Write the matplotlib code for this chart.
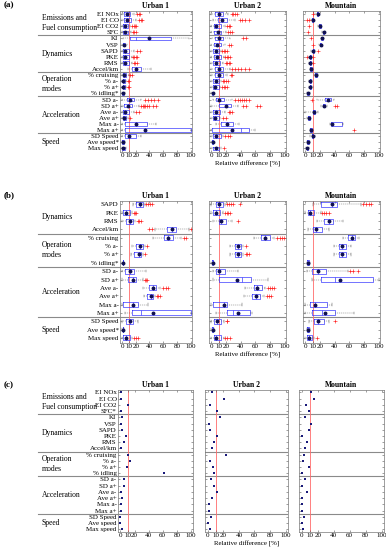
import numpy as np
import matplotlib
matplotlib.use('Agg')
import matplotlib.pyplot as plt
from matplotlib.lines import Line2D
from matplotlib import transforms

plt.rcParams['font.family'] = ['Liberation Serif', 'DejaVu Serif']

# ---------------- data ----------------
# row labels
labels_ac = ['EI NOx', 'EI CO', 'EI CO2', 'SFC', 'KI', 'VSP', 'SAPD', 'PKE', 'RMS',
             'Accel/km', '% cruising', '% a-', '% a+', '% idling*', 'SD a-', 'SD a+',
             'Ave a-', 'Ave a+', 'Max a-', 'Max a+', 'SD Speed', 'Ave speed*', 'Max speed']
labels_b = ['SAPD', 'PKE', 'RMS', 'Accel/km', '% cruising', '% a-', '% a+', '% idling*',
            'SD a-', 'SD a+', 'Ave a-', 'Ave a+', 'Max a-', 'Max a+', 'SD Speed',
            'Ave speed*', 'Max speed']
labels_c = ['EI NOx', 'EI CO', 'EI CO2', 'SFC*', 'KI', 'VSP', 'SAPD', 'PKE', 'RMS',
            'Accel/km', '% cruising', '% a-', '% a+', '% idling', 'SD a-', 'SD a+',
            'Ave a-', 'Ave a+', 'Max a-', 'Max a+', 'SD Speed', 'Ave speed', 'Max speed']

groups_ac = [('Emissions and\nFuel consumption', 2.5), ('Dynamics', 7.5),
             ('Operation\nmodes', 12.5), ('Acceleration', 17.5), ('Speed', 22)]
groups_b = [('Dynamics', 2.5), ('Operation\nmodes', 6.5), ('Acceleration', 11.5), ('Speed', 16)]
seps_ac = [4.5, 10.5, 14.5, 20.5]
seps_b = [4.5, 8.5, 14.5]

titles = ['Urban 1', 'Urban 2', 'Mountain']
xticks = [0, 10, 20, 40, 60, 80, 100]

# box rows: (whisker low, q1, median, q3, whisker high, mean, outliers)
a_urban1 = [
    (0, 3, 7, 11, 17, 7, [22, 24, 26]),
    (0, 3, 7, 13, 20, 7, [24, 27, 29]),
    (0, 2, 5, 9, 12, 5, [15, 17, 19, 20]),
    (0, 2, 5, 9, 13, 5, [16, 18, 20]),
    (2, 11, 21, 71, 98, 39, []),
    (0, 1, 3, 5, 7, 3, []),
    (0, 2, 5, 10, 18, 5, [22, 26]),
    (0, 2, 5, 10, 14, 5, [16, 18, 20, 22]),
    (0, 2, 5, 10, 14, 5, [17, 19, 22]),
    (8, 15, 20, 27, 42, 20, []),
    (0, 1, 3, 6, 10, 3, [12, 14]),
    (0, 1, 2, 4, 6, 2, [9, 10]),
    (0, 1, 2, 4, 6, 2, [8, 10]),
    (0, 0.5, 1.5, 3, 4, 1.5, []),
    (0, 7, 12, 18, 28, 12, [33, 38, 42, 47, 52]),
    (0, 3, 8, 14, 24, 8, [28, 30, 32, 34, 37, 40, 45, 50]),
    (0, 2, 5, 10, 17, 5, [21, 25]),
    (0, 1, 3, 6, 9, 3, [11]),
    (0, 4, 20, 36, 50, 20, []),
    (0, 4, 33, 100, 100, 33, []),
    (0, 5, 10, 21, 28, 10, []),
    (0, 0.5, 1.5, 3, 4, 1.5, []),
    (0, 0.5, 2, 4, 6, 2, []),
]
a_urban2 = [
    (0, 5, 10, 16, 23, 10, [28, 30, 33, 35]),
    (2, 9, 15, 21, 32, 15, [39, 42, 46, 51]),
    (0, 4, 7, 13, 19, 7, [22, 24, 26]),
    (0, 4, 9, 14, 20, 9, [23, 26, 29]),
    (0, 5, 11, 16, 26, 11, [43, 47]),
    (0, 4, 8, 13, 19, 8, [24, 27]),
    (0, 2, 6, 10, 13, 6, [15, 17, 19, 21]),
    (0, 4, 8, 13, 17, 8, [19, 21, 23, 25]),
    (0, 3, 7, 12, 16, 7, [20, 22, 24, 26]),
    (0, 5, 11, 16, 25, 11, [29, 33, 37, 41, 46, 51]),
    (0, 5, 11, 16, 22, 11, [27, 28]),
    (0, 2, 6, 10, 13, 6, [16, 18, 20, 23]),
    (0, 2, 5, 10, 12, 5, [15, 17, 19, 22]),
    (0, 1, 2, 3, 4, 2, []),
    (3, 6, 11, 17, 29, 11, [33, 36, 39, 42, 45, 48, 51]),
    (0, 10, 20, 27, 37, 20, [43, 47, 62, 66]),
    (0, 3, 7, 12, 19, 7, [24, 26, 28]),
    (0, 2, 5, 10, 12, 5, [16, 20]),
    (7, 14, 22, 30, 38, 22, []),
    (0, 1, 40, 52, 60, 29, []),
    (0, 3, 6, 13, 16, 6, [19, 23, 26]),
    (0, 1, 2, 3, 4, 2, []),
    (0, 2, 7, 11, 13, 7, [17]),
]
a_mountain = [
    (14, 16, 17, 18, 19, 17, [10]),
    (8, 9, 10, 11, 12, 10, [2, 5]),
    (18, 19, 20, 21, 22, 20, [5]),
    (23, 24, 25, 26, 27, 25, [4]),
    (21, 22, 23, 24, 25, 23, [8]),
    (19, 20, 21, 22, 23, 21, [11]),
    (8, 10, 11, 12, 14, 11, [18]),
    (5, 6, 7, 8, 9, 7, [3, 11]),
    (5, 6, 7, 8, 9, 7, [11]),
    (6, 7, 8, 9, 10, 8, []),
    (12, 14, 15, 16, 18, 15, []),
    (5, 6, 7, 8, 9, 7, []),
    (5, 6, 7, 8, 11, 7, []),
    (2, 3, 4, 5, 6, 4, []),
    (16, 27, 31, 35, 39, 31, [9]),
    (22, 24, 25, 27, 30, 25, [41, 44]),
    (0, 10, 12, 14, 18, 12, []),
    (3, 4, 5, 6, 7, 5, []),
    (34, 35, 37, 50, 51, 37, []),
    (6, 7, 8, 9, 10, 8, [67]),
    (7, 9, 10, 11, 14, 10, []),
    (2, 3, 4, 5, 6, 4, []),
    (1, 2, 3, 4, 5, 3, []),
]
b_urban1 = [
    (16, 21, 26, 31, 33, 26, [35, 38, 41, 43]),
    (0, 1, 6, 11, 15, 6, [17, 19, 21]),
    (0, 6, 11, 16, 19, 11, [23, 25, 27]),
    (48, 66, 73, 79, 97, 73, [40, 43, 100]),
    (45, 61, 67, 74, 86, 67, [90, 93]),
    (15, 21, 26, 31, 33, 26, [36]),
    (13, 18, 24, 28, 31, 24, [34]),
    (0, 1, 1.5, 2, 3, 1.5, []),
    (0, 5, 11, 18, 35, 11, []),
    (0, 9, 16, 21, 30, 16, [33, 35, 36]),
    (30, 40, 45, 50, 55, 45, [60, 64, 67]),
    (32, 37, 42, 45, 48, 42, [51, 53, 55]),
    (0, 1, 16, 23, 38, 16, []),
    (5, 15, 28, 100, 100, 45, []),
    (0, 6, 11, 16, 23, 11, []),
    (0, 1, 1.5, 2, 3, 1.5, []),
    (0, 1, 6, 11, 15, 6, [18, 20, 23]),
]
b_urban2 = [
    (0, 7, 11, 16, 19, 11, [21, 24, 27, 30, 39]),
    (0, 2, 7, 12, 16, 7, [19, 21, 23, 25]),
    (2, 10, 14, 20, 28, 14, [36]),
    None,
    (58, 68, 74, 80, 85, 74, [90, 94, 97, 99]),
    (25, 33, 36, 40, 44, 36, [47]),
    (26, 33, 36, 40, 44, 36, [47, 49, 51]),
    (0, 1, 2, 3, 4, 2, []),
    (3, 6, 11, 19, 37, 11, []),
    (3, 10, 42, 54, 78, 35, []),
    (46, 58, 63, 69, 74, 63, [78, 80, 83, 85]),
    (45, 55, 61, 66, 72, 61, [76, 79, 82]),
    (0, 2, 17, 21, 42, 17, []),
    (7, 21, 30, 53, 56, 37, []),
    (0, 4, 8, 13, 17, 8, [21, 22]),
    (0, 1, 2, 3, 4, 2, []),
    (0, 4, 7, 13, 17, 7, [19, 22, 25]),
]
b_mountain = [
    (10, 21, 36, 44, 76, 36, [79, 83, 87, 90]),
    (0, 4, 7, 12, 21, 7, [23, 26, 29, 32]),
    (16, 25, 32, 38, 51, 32, []),
    (4, 10, 15, 23, 32, 15, []),
    (51, 58, 64, 68, 74, 64, []),
    (39, 46, 50, 55, 62, 50, []),
    (39, 46, 50, 55, 62, 50, []),
    (2, 3, 4, 5, 6, 4, []),
    (2, 9, 18, 28, 58, 18, [61, 65, 72]),
    (9, 21, 41, 92, 100, 48, []),
    None,
    None,
    (0, 7, 13, 30, 37, 13, []),
    (0, 9, 23, 41, 67, 27, []),
    (5, 12, 18, 25, 32, 18, [41]),
    (2, 3, 4, 5, 6, 4, []),
    (0, 2, 5, 9, 12, 5, [16]),
]
# panel (c): single values
c_urban1 = [0.5, 0.5, 10.5, 0.5, 2.5, 1, 2.5, 8.5, 5, 0.5, 10.5, 13, 9, 62,
            5, 5, 0.5, 1.5, 0.5, 0.5, 0, 0, 1.5]
c_urban2 = [5, 21, 2.5, 12.5, 16, 1, 3.5, 12.5, 7.5, 5, 24, 3, 7, 8,
            4, 7.5, 11.5, 5, 1, 1, 4, 0.5, 3.5]
c_mountain = [11, 15, 5, 9, 4.5, 11, 9, 0, 7, 4, 3, 1.5, 9, 0,
              4, 0, 6, 0, 0, 0, 2.5, 0, 1.5]

# ---------------- figure ----------------
W, H = 386, 550
fig = plt.figure(figsize=(W / 100, H / 100), dpi=100)

FS = 5
sep_col = '#8a8a8a'


def add_ax(x0, x1, y0, y1):
    return fig.add_axes([x0 / W, 1 - y1 / H, (x1 - x0) / W, (y1 - y0) / H])


def style_ax(ax, n, ylim, xlim, labels, first, title, xlabel):
    ax.set_xlim(*xlim)
    ax.set_ylim(*ylim)
    ax.set_xticks(xticks)
    ax.set_xticklabels([str(t) for t in xticks])
    ax.set_yticks(np.arange(1, n + 1))
    if first:
        ax.set_yticklabels(labels)
    else:
        ax.set_yticklabels([])
    ax.tick_params(axis='both', direction='in', length=1.5, width=0.4,
                   labelsize=FS, pad=1, top=True, right=True, colors='#555555',
                   labelcolor='black')
    for s in ax.spines.values():
        s.set_color('#777777')
        s.set_linewidth(0.5)
    ax.axvline(10, color='#ff6a6a', lw=0.6, zorder=1)
    ax.set_title(title, fontsize=5.5, fontweight='bold', pad=2)
    if xlabel:
        ax.set_xlabel('Relative difference [%]', fontsize=FS, labelpad=1.5)


def draw_boxes(ax, rows):
    stats, pos = [], []
    for i, r in enumerate(rows):
        if r is None:
            continue
        lo, q1, med, q3, hi, mean, fl = r
        stats.append(dict(whislo=lo, q1=q1, med=med, q3=q3, whishi=hi,
                          mean=mean, fliers=fl))
        pos.append(i + 1)
    ax.bxp(stats, positions=pos, orientation='horizontal', widths=0.6,
           showmeans=True, patch_artist=False,
           boxprops=dict(color='#3b3bff', lw=0.5),
           medianprops=dict(color='#3b3bff', lw=0.5),
           whiskerprops=dict(color='#555555', ls=(0, (2, 2)), lw=0.35),
           capprops=dict(color='#555555', lw=0.35),
           capwidths=0.3,
           meanprops=dict(marker='o', mfc='#101050', mec='#101050', ms=1.8),
           flierprops=dict(marker='+', mec='#ff2020', ms=2.2, mew=0.45))


def separators(ax, seps, x0):
    trans = transforms.blended_transform_factory(fig.transFigure, ax.transData)
    for y in seps:
        ax.axhline(y, color=sep_col, lw=0.8, zorder=0.5)
        if x0 is not None:
            fig.add_artist(Line2D([38 / W, x0 / W], [y, y], transform=trans,
                                  color=sep_col, lw=0.8))


def group_labels(ax, groups):
    trans = transforms.blended_transform_factory(fig.transFigure, ax.transData)
    for txt, y in groups:
        ax.text(42 / W, y, txt, transform=trans, fontsize=5.5, va='center',
                ha='left', linespacing=1.3)


# panel (a)
rects_a = [(120, 192), (209, 286), (303, 380)]
for k, (rows, (x0, x1)) in enumerate(zip([a_urban1, a_urban2, a_mountain], rects_a)):
    ax = add_ax(x0, x1, 11, 152)
    draw_boxes(ax, rows)
    style_ax(ax, 23, (23.6, 0.5), (-3, 102), labels_ac, k == 0, titles[k], k == 1)
    separators(ax, seps_ac, x0 if k == 0 else None)
    if k == 0:
        group_labels(ax, groups_ac)

# panel (b)
for k, (rows, (x0, x1)) in enumerate(zip([b_urban1, b_urban2, b_mountain], rects_a)):
    ax = add_ax(x0, x1, 201, 343)
    draw_boxes(ax, rows)
    style_ax(ax, 17, (17.6, 0.6), (-3, 102), labels_b, k == 0, titles[k], k == 1)
    separators(ax, seps_b, x0 if k == 0 else None)
    if k == 0:
        group_labels(ax, groups_b)

# panel (c)
rects_c = [(118, 193), (205, 288), (299, 384)]
for k, (vals, (x0, x1)) in enumerate(zip([c_urban1, c_urban2, c_mountain], rects_c)):
    ax = add_ax(x0, x1, 390, 532)
    ax.plot(vals, np.arange(1, len(vals) + 1), 's', color='#1a1a7a', ms=1.8, mew=0)
    style_ax(ax, 23, (23.45, 0.6), (-3.5, 103), labels_c, k == 0, titles[k], k == 1)
    separators(ax, seps_ac, x0 if k == 0 else None)
    if k == 0:
        group_labels(ax, groups_ac)

for lab, y in [('(a)', 5), ('(b)', 195), ('(c)', 385)]:
    fig.text(4 / W, 1 - y / H, lab, fontsize=6.5, fontweight='bold', va='center', ha='left')

fig.savefig('out.png', dpi=100)
